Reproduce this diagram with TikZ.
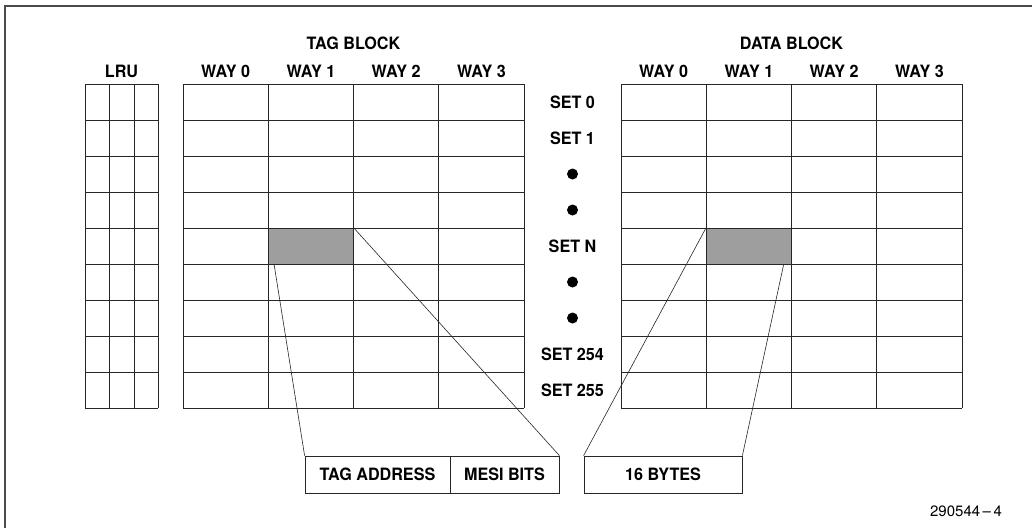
\documentclass[tikz,border=0pt]{standalone}
\usepackage{fontspec}
\setmainfont{TeX Gyre Heros}
\newfontfamily\lblfont[FakeStretch=0.95]{TeX Gyre Heros}
\usetikzlibrary{calc}
\begin{document}
\begin{tikzpicture}[x=1pt,y=-1pt,
  gridline/.style={line width=0.8pt, draw=black!85},
  frameline/.style={line width=1.8pt, draw=black!70},
  lbl/.style={font=\lblfont\fontsize{17}{19}\selectfont\bfseries, inner sep=0pt, anchor=center},
  hit/.style={fill=black!38, draw=none, inner sep=0pt, minimum width=85.25pt, minimum height=36pt},
  fieldbox/.style={draw=black!85, line width=0.8pt, inner sep=0pt, minimum height=37pt, font=\lblfont\fontsize{17}{19}\selectfont\bfseries},
  dotmark/.style={circle, fill=black, inner sep=0pt, minimum size=11pt},
  conn/.style={line width=0.6pt, draw=black!85},
  note/.style={font=\fontsize{15}{17}\selectfont, inner sep=0pt}]
\useasboundingbox (0,0) rectangle (1032,528);
% frame (left and top edges visible)
\draw[frameline] (5,528) -- (5,6) -- (1032,6);

% highlighted cells
\node[hit] (tagN) at (310.875,246) {};
\node[hit] (dataN) at (748.875,246) {};

% LRU grid
\foreach \x in {85,109.5,134,158} \draw[gridline] (\x,84) -- (\x,408);
\foreach \y in {84,120,...,408} \draw[gridline] (85,\y) -- (158,\y);
% tag grid
\foreach \x in {183,268.25,353.5,438.75,524} \draw[gridline] (\x,84) -- (\x,408);
\foreach \y in {84,120,...,408} \draw[gridline] (183,\y) -- (524,\y);
% data grid
\foreach \x in {621,706.25,791.5,876.75,962} \draw[gridline] (\x,84) -- (\x,408);
\foreach \y in {84,120,...,408} \draw[gridline] (621,\y) -- (962,\y);

% headings
\node[lbl] (tagtitle) at (353.5,43) {TAG BLOCK};
\node[lbl] (datatitle) at (791.5,43) {DATA BLOCK};
\node[lbl] (lru) at (121.5,71) {LRU};
\node[lbl] (tw0) at (225.6,71) {WAY 0};
\node[lbl] (tw1) at (310.9,71) {WAY 1};
\node[lbl] (tw2) at (396.1,71) {WAY 2};
\node[lbl] (tw3) at (481.4,71) {WAY 3};
\node[lbl] (dw0) at (663.6,71) {WAY 0};
\node[lbl] (dw1) at (748.9,71) {WAY 1};
\node[lbl] (dw2) at (834.1,71) {WAY 2};
\node[lbl] (dw3) at (919.4,71) {WAY 3};

% set labels
\node[lbl] (s0) at (572.5,102) {SET 0};
\node[lbl] (s1) at (572.5,138) {SET 1};
\node[dotmark] (d1) at (572.5,174) {};
\node[dotmark] (d2) at (572.5,210) {};
\node[lbl] (sn) at (572.5,246) {SET N};
\node[dotmark] (d3) at (572.5,282) {};
\node[dotmark] (d4) at (572.5,318) {};
\node[lbl] (s254) at (572.5,354) {SET 254};
\node[lbl] (s255) at (572.5,390) {SET 255};

% field boxes
\node[fieldbox, minimum width=145pt] (tagaddr) at (377.5,474.5) {TAG ADDRESS};
\node[fieldbox, minimum width=109pt] (mesi) at (504.5,474.5) {MESI BITS};
\node[fieldbox, minimum width=158pt] (bytes) at (663,474.5) {16 BYTES};

% connectors
\draw[conn] ($(tagN.south west)+(6,0)$) -- (tagaddr.north west);
\draw[conn] (tagN.north east) -- (mesi.north east);
\draw[conn] (dataN.north west) -- (bytes.north west);
\draw[conn] ($(dataN.south east)+(-8,0)$) -- (bytes.north east);

\node[note] (fig) at (966,511) {290544\,--\,4};
\end{tikzpicture}
\end{document}
